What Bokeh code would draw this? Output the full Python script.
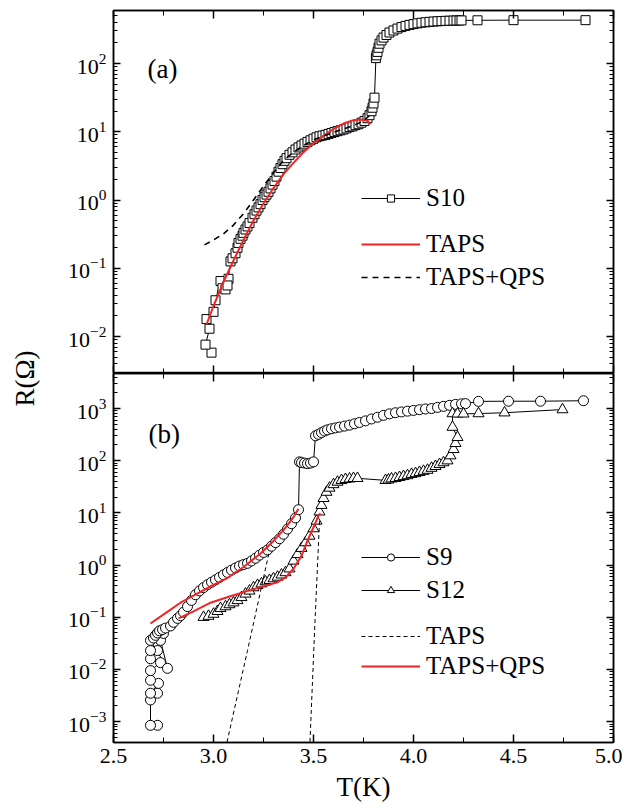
from bokeh.plotting import figure
from bokeh.models import (LogAxis, LinearAxis, FixedTicker, LogTickFormatter,
                          PrintfTickFormatter, Legend, LegendItem, Label, Range1d,
                          CustomJSTickFormatter)
from bokeh.layouts import row, column
from bokeh.embed import file_html
from bokeh.resources import INLINE
import math

FONT = "Liberation Serif"
RED = "#f02424"

# ---------------- panel (a) data ----------------
S10_T = [2.99, 2.96, 2.98, 2.965, 3.0, 3.01, 3.035, 3.045, 3.06, 3.075, 3.07, 3.085, 3.095,
         3.11, 3.12, 3.125, 3.135, 3.145, 3.15, 3.16, 3.17, 3.18, 3.195, 3.205, 3.215, 3.225,
         3.235, 3.245, 3.255, 3.265, 3.275, 3.285, 3.295, 3.305, 3.315, 3.325, 3.335, 3.345,
         3.355, 3.365, 3.38, 3.395, 3.41, 3.425, 3.44, 3.455, 3.47, 3.485, 3.5, 3.515, 3.53,
         3.545, 3.56, 3.575, 3.59, 3.605, 3.62, 3.635, 3.65, 3.665, 3.68, 3.695, 3.71, 3.725,
         3.74, 3.755, 3.77, 3.78, 3.79, 3.795, 3.8, 3.805, 3.812, 3.815, 3.82, 3.825, 3.83,
         3.84, 3.85, 3.865, 3.88, 3.9, 3.92, 3.94, 3.96, 3.98, 4.0, 4.02, 4.04, 4.06, 4.08,
         4.1, 4.12, 4.14, 4.16, 4.18, 4.2, 4.215, 4.23, 4.24, 4.32, 4.5, 4.86]
S10_R = [0.0058, 0.0076, 0.013, 0.018, 0.023, 0.034, 0.065, 0.051, 0.049, 0.07, 0.056, 0.126,
         0.14, 0.166, 0.2, 0.235, 0.27, 0.3, 0.33, 0.37, 0.41, 0.46, 0.55, 0.62, 0.7, 0.78,
         0.87, 1.0, 1.1, 1.2, 1.32, 1.48, 1.68, 1.9, 2.2, 2.6, 2.95, 3.35, 3.75, 4.1, 4.6,
         5.0, 5.5, 5.9, 6.3, 6.7, 7.1, 7.5, 7.9, 8.3, 8.6, 8.8, 9.0, 9.3, 9.6, 9.9, 10.2,
         10.5, 10.8, 11.2, 11.7, 12.0, 12.5, 12.9, 13.6, 14.4, 15.8, 17.5, 20.0, 22.5, 26.0,
         31.6, 120, 132, 148, 170, 195, 218, 240, 262, 285, 305, 325, 342, 356, 368, 378,
         388, 396, 402, 408, 412, 416, 419, 422, 424, 426, 427, 428, 428, 430, 432, 432]

TAPS_A_T = [2.965, 3.0, 3.05, 3.1, 3.15, 3.2, 3.25, 3.3, 3.35, 3.4, 3.45, 3.5, 3.55, 3.6,
            3.65, 3.7, 3.74, 3.77, 3.785]
TAPS_A_R = [0.015, 0.028, 0.063, 0.13, 0.26, 0.5, 0.89, 1.5, 2.4, 3.5, 5.0, 6.8, 8.7, 11.0,
            13.2, 14.8, 15.1, 14.5, 12.9]

QPS_A_T = [2.955, 3.0, 3.05, 3.1, 3.15, 3.2, 3.25, 3.3, 3.35, 3.4, 3.45, 3.5, 3.55, 3.6,
           3.65, 3.7, 3.75, 3.785]
QPS_A_R = [0.22, 0.26, 0.32, 0.43, 0.63, 1.0, 1.6, 2.5, 3.8, 5.0, 6.3, 7.6, 8.7, 9.8, 11.0,
           12.3, 14.5, 17.8]

# ---------------- panel (b) data ----------------
S9_T = [2.72, 2.685, 2.685, 2.72, 2.685, 2.725, 2.685, 2.685, 2.735, 2.685, 2.72, 2.685,
        2.685, 2.77, 2.735, 2.75, 2.7, 2.71, 2.72, 2.73, 2.745, 2.76, 2.785, 2.8, 2.82,
        2.835, 2.85, 2.87, 2.89, 2.91, 2.93, 2.95, 2.97, 2.99, 3.01, 3.03, 3.05, 3.07, 3.09,
        3.11, 3.13, 3.15, 3.17, 3.19, 3.21, 3.23, 3.25, 3.27, 3.29, 3.31, 3.33, 3.35, 3.37,
        3.39, 3.41, 3.425, 3.43, 3.44, 3.455, 3.47, 3.485, 3.5, 3.51, 3.525, 3.54, 3.555,
        3.57, 3.59, 3.61, 3.63, 3.655, 3.68, 3.705, 3.73, 3.76, 3.79, 3.82, 3.85, 3.88, 3.91,
        3.94, 3.97, 4.0, 4.03, 4.06, 4.09, 4.12, 4.15, 4.18, 4.21, 4.24, 4.26, 4.325, 4.475,
        4.635, 4.85]
S9_R = [0.00085, 0.00085, 0.0026, 0.0035, 0.0035, 0.0054, 0.0062, 0.0095, 0.0135, 0.016,
        0.023, 0.023, 0.036, 0.0105, 0.036, 0.049, 0.04, 0.045, 0.05, 0.055, 0.058, 0.062,
        0.068, 0.08, 0.095, 0.107, 0.125, 0.16, 0.21, 0.27, 0.32, 0.37, 0.42, 0.47, 0.52,
        0.58, 0.65, 0.72, 0.8, 0.88, 0.96, 1.02, 1.08, 1.2, 1.35, 1.55, 1.75, 1.95, 2.3, 2.7,
        3.2, 3.9, 4.9, 6.2, 8.0, 11.5, 95, 92, 90, 88, 90, 95, 300, 320, 345, 370, 390, 410,
        425, 440, 460, 480, 510, 540, 580, 630, 680, 740, 790, 830, 860, 890, 920, 950, 980,
        1000, 1050, 1100, 1150, 1200, 1230, 1240, 1370, 1380, 1380, 1410]

S12_T = [2.95, 2.975, 3.0, 3.02, 3.035, 3.06, 3.08, 3.1, 3.12, 3.14, 3.16, 3.18, 3.2, 3.22,
         3.24, 3.26, 3.28, 3.3, 3.32, 3.34, 3.36, 3.38, 3.4, 3.42, 3.44, 3.46, 3.48, 3.5,
         3.515, 3.53, 3.54, 3.55, 3.565, 3.58, 3.6, 3.62, 3.64, 3.66, 3.68, 3.7, 3.72, 3.86,
         3.875, 3.89, 3.91, 3.93, 3.95, 3.97, 3.99, 4.01, 4.03, 4.05, 4.07, 4.09, 4.11, 4.13,
         4.15, 4.17, 4.185, 4.2, 4.21, 4.22, 4.195, 4.195, 4.22, 4.25, 4.325, 4.455, 4.745]
S12_R = [0.1, 0.105, 0.115, 0.13, 0.148, 0.16, 0.175, 0.19, 0.21, 0.24, 0.28, 0.32, 0.37,
         0.41, 0.44, 0.48, 0.51, 0.55, 0.59, 0.65, 0.72, 0.85, 1.2, 1.6, 2.1, 2.7, 3.6, 5.0,
         7.0, 10.5, 14, 19, 25, 30, 35, 39, 42, 44, 45, 46, 46, 42, 43, 45, 46, 48, 50, 52,
         55, 57, 60, 63, 66, 72, 78, 85, 92, 100, 125, 165, 215, 280, 440, 800, 790, 790,
         800, 830, 955]

FIT9_T = [2.685, 2.76, 2.835, 2.9, 2.98, 3.07, 3.15, 3.235, 3.3, 3.36, 3.4, 3.425]
FIT9_R = [0.076, 0.12, 0.19, 0.26, 0.38, 0.57, 0.92, 1.66, 2.9, 5.2, 8.3, 12.0]
FIT12_T = [2.825, 2.9, 2.985, 3.08, 3.17, 3.25, 3.32, 3.36, 3.4, 3.44, 3.47, 3.5, 3.525, 3.535]
FIT12_R = [0.095, 0.13, 0.19, 0.25, 0.32, 0.39, 0.47, 0.58, 0.85, 1.5, 2.95, 5.3, 8.9, 9.8]

TAPS1_T = [3.06, 3.17, 3.28]
TAPS1_R = [3.0e-4, 0.023, 1.9]
TAPS2_T = [3.481, 3.505, 3.53]
TAPS2_R = [3.0e-4, 0.05, 7.0]

# ---------------- ticks ----------------
X_TICKS = [2.5, 3.0, 3.5, 4.0, 4.5, 5.0]
X_MINOR = [2.75, 3.25, 3.75, 4.25, 4.75]
YA_TICKS = [1e-2, 1e-1, 1e0, 1e1, 1e2]
YB_TICKS = [1e-3, 1e-2, 1e-1, 1e0, 1e1, 1e2, 1e3]
Y_MINOR = [m * 10.0 ** e for e in range(-4, 4) for m in range(2, 10)]

BLANK = CustomJSTickFormatter(code="return ''")


def style_axis(ax, labels=True):
    ax.axis_line_color = "black"
    ax.axis_line_width = 1.5
    ax.major_tick_line_color = "black"
    ax.minor_tick_line_color = "black"
    ax.major_tick_line_width = 1.5
    ax.minor_tick_line_width = 1
    ax.major_tick_out = 0
    ax.minor_tick_out = 0
    ax.major_label_text_font = FONT
    ax.major_label_text_color = "black"
    if not labels:
        ax.formatter = BLANK
        ax.major_label_text_font_size = "1px"
        ax.major_label_standoff = -1
        ax.axis_label = None


def make_panel(height, yr, yticks, top_border, bottom_border, bottom_labels):
    p = figure(width=559, height=height, y_axis_type="log",
               x_range=Range1d(2.5, 5.0), y_range=Range1d(*yr),
               min_border_left=50, min_border_right=9,
               min_border_top=top_border, min_border_bottom=bottom_border,
               toolbar_location=None, output_backend="svg")
    p.xgrid.visible = False
    p.ygrid.visible = False
    p.outline_line_color = "black"
    p.outline_line_width = 1.5
    p.background_fill_color = "white"
    p.border_fill_color = "white"

    xt = FixedTicker(ticks=X_TICKS, minor_ticks=X_MINOR)
    yt = FixedTicker(ticks=yticks, minor_ticks=Y_MINOR)

    xb = p.below[0]
    xb.ticker = xt
    xb.formatter = PrintfTickFormatter(format="%.1f")
    style_axis(xb, labels=bottom_labels)
    xb.major_tick_in = 8
    xb.minor_tick_in = 5
    if bottom_labels:
        xb.major_label_text_font_size = "22px"
        xb.major_label_standoff = 6

    yl = p.left[0]
    yl.ticker = yt
    yl.formatter = LogTickFormatter()
    style_axis(yl)
    yl.major_tick_in = 7
    yl.minor_tick_in = 4
    yl.major_label_text_font_size = "22px"
    yl.major_label_standoff = 7

    xa = LinearAxis(ticker=xt)
    style_axis(xa, labels=False)
    xa.major_tick_in = 8
    xa.minor_tick_in = 5
    p.add_layout(xa, "above")

    yr_ax = LogAxis(ticker=yt)
    style_axis(yr_ax, labels=False)
    yr_ax.major_tick_in = 7
    yr_ax.minor_tick_in = 4
    p.add_layout(yr_ax, "right")
    return p


def make_legend(items, loc, spacing):
    return Legend(items=items, location=loc, spacing=spacing, padding=0, margin=0,
                  border_line_color=None, background_fill_alpha=0,
                  glyph_width=59, glyph_height=18, label_height=26, label_standoff=6,
                  label_text_font=FONT, label_text_font_size="25px",
                  label_text_baseline="middle", label_text_color="black")


# ---------------- panel (a) ----------------
p1 = make_panel(373, (10 ** -2.542, 10 ** 2.777), YA_TICKS, 10, 0, False)
l10 = p1.line(S10_T, S10_R, line_color="black", line_width=1)
m10 = p1.scatter(S10_T, S10_R, marker="square", size=9, fill_color="white",
                 line_color="black", line_width=1)
ra = p1.line(TAPS_A_T, TAPS_A_R, line_color=RED, line_width=2)
qa = p1.line(QPS_A_T, QPS_A_R, line_color="black", line_width=1.6, line_dash="6 5")
p1.add_layout(make_legend([LegendItem(label="S10", renderers=[l10, m10])], (248, 161), 0))
p1.add_layout(make_legend([LegendItem(label="TAPS", renderers=[ra]),
                           LegendItem(label="TAPS+QPS", renderers=[qa])], (248, 82), 5))
p1.add_layout(Label(x=2.67, y=84, text="(a)", text_font=FONT, text_font_size="27px",
                    text_baseline="middle", text_align="left", text_color="black"))

# ---------------- panel (b) ----------------
p2 = make_panel(435, (10 ** -3.40, 10 ** 3.671), YB_TICKS, 0, 66, True)
xl = p2.below[0]
xl.axis_label = "T(K)"
xl.axis_label_text_font = FONT
xl.axis_label_text_font_size = "27px"
xl.axis_label_text_font_style = "normal"
xl.axis_label_text_color = "black"
xl.axis_label_standoff = 6

l9 = p2.line(S9_T, S9_R, line_color="black", line_width=1)
m9 = p2.scatter(S9_T, S9_R, marker="circle", size=10, fill_color="white",
                line_color="black", line_width=1)
l12 = p2.line(S12_T, S12_R, line_color="black", line_width=1)
m12 = p2.scatter(S12_T, S12_R, marker="triangle", size=11, fill_color="white",
                 line_color="black", line_width=1)
d1 = p2.line(TAPS1_T, TAPS1_R, line_color="black", line_width=1, line_dash="4 3")
d2 = p2.line(TAPS2_T, TAPS2_R, line_color="black", line_width=1, line_dash="4 3")
f9 = p2.line(FIT9_T, FIT9_R, line_color=RED, line_width=2)
f12 = p2.line(FIT12_T, FIT12_R, line_color=RED, line_width=2)
p2.add_layout(make_legend([LegendItem(label="S9", renderers=[l9, m9]),
                           LegendItem(label="S12", renderers=[l12, m12])], (248, 138), 5))
p2.add_layout(make_legend([LegendItem(label="TAPS", renderers=[d1]),
                           LegendItem(label="TAPS+QPS", renderers=[f9])], (248, 62), 2))
p2.add_layout(Label(x=2.675, y=330, text="(b)", text_font=FONT, text_font_size="27px",
                    text_baseline="middle", text_align="left", text_color="black"))

# ---------------- shared y label ----------------
pl = figure(width=63, height=808, x_range=(0, 1), y_range=(0, 1),
            min_border=0, toolbar_location=None, output_backend="svg",
            x_axis_location=None, y_axis_location=None)
pl.xgrid.visible = False
pl.ygrid.visible = False
pl.outline_line_color = None
pl.add_layout(Label(x=24, y=430, x_units="screen", y_units="screen", text="R(Ω)",
                    angle=math.pi / 2, text_font=FONT, text_font_size="27px",
                    text_align="center", text_baseline="middle", text_color="black"))

layout = row(pl, column(p1, p2))
open("out.html", "w").write(file_html(layout, INLINE))
